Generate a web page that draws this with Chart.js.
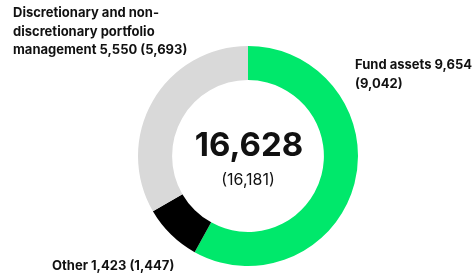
<!DOCTYPE html>
<html>
<head>
<meta charset="utf-8">
<script src="https://cdn.jsdelivr.net/npm/chart.js@4/dist/chart.umd.min.js"></script>
<style>
  html, body { margin: 0; padding: 0; background: #fff; }
  #wrap { position: relative; width: 472px; height: 276px; }
  .lbl {
    position: absolute;
    font-family: Inter, "Noto Sans", sans-serif;
    font-weight: 700;
    font-size: 13px;
    line-height: 18.5px;
    color: #111;
    white-space: nowrap;
  }
</style>
</head>
<body>
<div id="wrap">
  <canvas id="chart" width="472" height="276"></canvas>
  <div class="lbl" id="lbl0" style="left:355px; top:55px;"></div>
  <div class="lbl" id="lbl1" style="left:52px; top:256px;"></div>
  <div class="lbl" id="lbl2" style="left:13px; top:3px;"></div>
</div>
<script>
// segments, clockwise from 12 o'clock
const categories = ["Fund assets", "Other", "Discretionary and non-discretionary portfolio management"];
const values = [9654, 1423, 5550];
const prevValues = [9042, 1447, 5693];
const colors = ["#00e86b", "#000000", "#d9d9d9"];
const total = 16628;
const prevTotal = 16181;

const fmt = (n) => n.toLocaleString("en-US");

// outside labels
document.getElementById("lbl0").innerHTML =
  `${categories[0]} ${fmt(values[0])}<br>(${fmt(prevValues[0])})`;
document.getElementById("lbl1").innerHTML =
  `${categories[1]} ${fmt(values[1])} (${fmt(prevValues[1])})`;
document.getElementById("lbl2").innerHTML =
  `Discretionary and non-<br>discretionary portfolio<br>management ${fmt(values[2])} (${fmt(prevValues[2])})`;

// total in the hole
const centerText = {
  id: "centerText",
  afterDraw(chart) {
    const arc = chart.getDatasetMeta(0).data[0];
    if (!arc) return;
    const { ctx } = chart;
    ctx.save();
    ctx.fillStyle = "#111";
    ctx.textAlign = "center";
    ctx.textBaseline = "middle";
    ctx.font = "700 33px Inter, 'Noto Sans', sans-serif";
    ctx.fillText(fmt(total), arc.x + 1, arc.y - 10);
    ctx.font = "400 16px Inter, 'Noto Sans', sans-serif";
    ctx.fillText(`(${fmt(prevTotal)})`, arc.x, arc.y + 24);
    ctx.restore();
  },
};

new Chart(document.getElementById("chart"), {
  type: "doughnut",
  data: {
    labels: categories,
    datasets: [{
      data: values,
      backgroundColor: colors,
      borderWidth: 0,
    }],
  },
  options: {
    responsive: false,
    animation: false,
    cutout: "69%",
    layout: { padding: { top: 46, bottom: 10, left: 24, right: 0 } },
    plugins: {
      legend: { display: false },
      tooltip: { enabled: false },
    },
  },
  plugins: [centerText],
});
</script>
</body>
</html>
